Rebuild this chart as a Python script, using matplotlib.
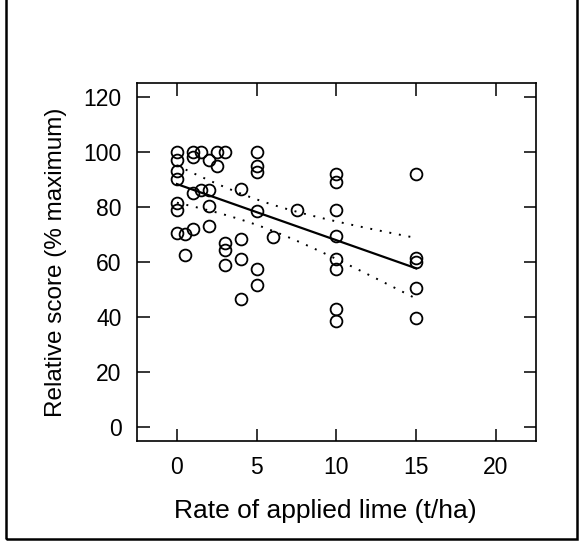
import matplotlib
matplotlib.use('Agg')
import matplotlib.pyplot as plt
from matplotlib.patches import Rectangle
import numpy as np

plt.rcParams['font.family'] = ['Liberation Sans', 'DejaVu Sans']

# lime rate (t/ha) and relative score (% maximum)
lime = [0, 0, 0, 0, 0, 0, 0,
        0.5, 0.5,
        1, 1, 1, 1,
        1.5, 1.5,
        2, 2, 2, 2,
        2.5, 2.5,
        3, 3, 3, 3,
        4, 4, 4, 4,
        5, 5, 5, 5, 5, 5,
        6,
        7.5,
        10, 10, 10, 10, 10, 10, 10, 10,
        15, 15, 15, 15, 15]
score = [100, 97, 93, 90, 81.5, 79, 70.5,
         70, 62.5,
         100, 98, 85, 72,
         100, 86,
         97, 86, 80.5, 73,
         95, 100,
         100, 67, 64.5, 59,
         86.5, 68.5, 61, 46.5,
         100, 95, 92.5, 78.5, 57.5, 51.5,
         69,
         79,
         92, 89, 79, 69.5, 61, 57.5, 43, 38.5,
         92, 61.5, 60, 50.5, 39.5]

# fitted line as printed (intercept, slope)
fit_intercept = 88.3
fit_slope = -2.04
fit_range = [0, 15]

x_ticks = [0, 5, 10, 15, 20]
y_ticks = [0, 20, 40, 60, 80, 100, 120]

x = np.array(lime, dtype=float)
y = np.array(score, dtype=float)

# 95% confidence band of the mean around the line
n = len(x)
resid = y - (fit_intercept + fit_slope * x)
s = np.sqrt(np.sum(resid ** 2) / (n - 2))
sxx = np.sum((x - x.mean()) ** 2)
xf = np.linspace(fit_range[0], fit_range[1], 100)
yf = fit_intercept + fit_slope * xf
half = 2.01 * s * np.sqrt(1.0 / n + (xf - x.mean()) ** 2 / sxx)

fig = plt.figure(figsize=(5.84, 5.46), dpi=100)
ax = fig.add_axes([0.2346, 0.1923, 0.683, 0.6557])

ax.plot(xf, yf, color='black', lw=1.6)
ax.plot(xf, yf + half, color='black', lw=1.4, ls=(0, (1, 4)))
ax.plot(xf, yf - half, color='black', lw=1.4, ls=(0, (1, 4)))
ax.plot(x, y, 'o', mfc='none', mec='black', ms=8.5, mew=1.3, ls='none')

ax.set_xlim(-2.5, 22.5)
ax.set_ylim(-5, 125)
ax.set_xticks(x_ticks)
ax.set_yticks(y_ticks)
ax.tick_params(direction='in', length=9, width=1.1, top=True, right=True,
               labelsize=16.5, pad=11)
for sp in ax.spines.values():
    sp.set_linewidth(1.2)

ax.set_xlabel('Rate of applied lime (t/ha)', fontsize=19)
ax.xaxis.set_label_coords(0.471, -0.163)
ax.set_ylabel('Relative score (% maximum)', fontsize=17.5, labelpad=12)

# frame round the whole panel (top is cut off in the scan)
fig.patches.append(Rectangle((6 / 584, 7 / 546), 571 / 584, 1.2,
                             transform=fig.transFigure, fill=False,
                             ec='black', lw=1.8, clip_on=False))

fig.savefig('out.png', dpi=100)
